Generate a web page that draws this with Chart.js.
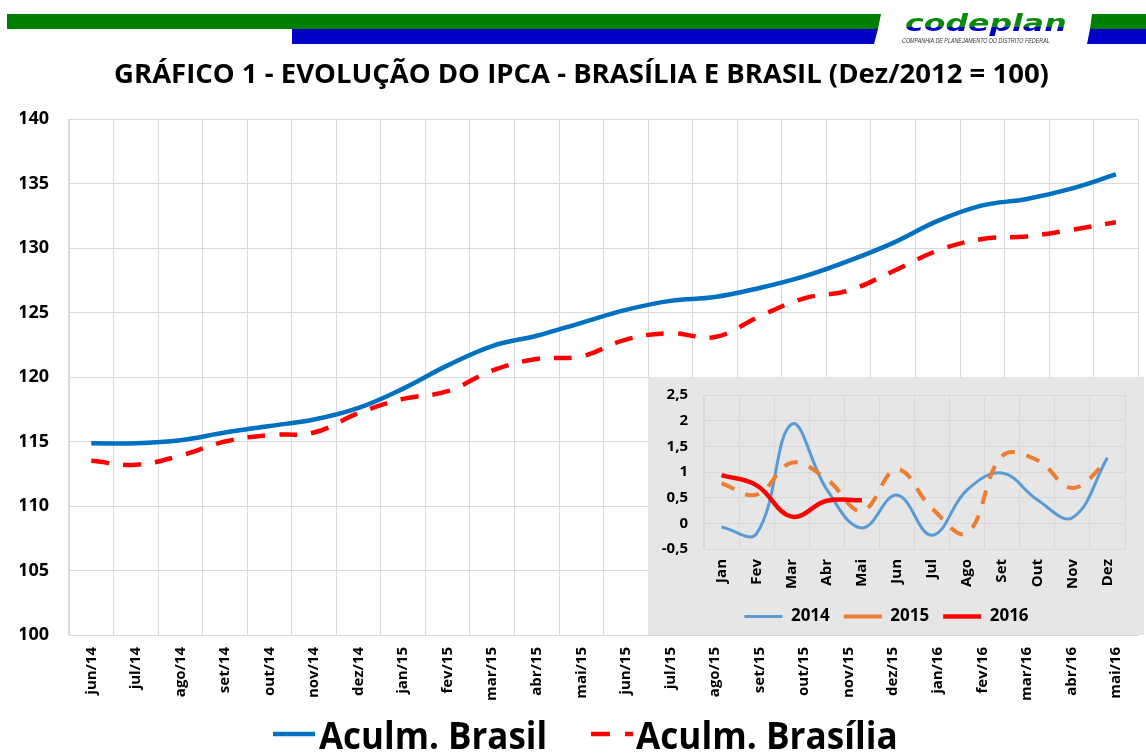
<!DOCTYPE html>
<html>
<head>
<meta charset="utf-8">
<script src="https://cdn.jsdelivr.net/npm/chart.js@4.4.1/dist/chart.umd.min.js"></script>
<style>
  body { margin: 0; background: #fff; }
  #page { position: relative; width: 1146px; height: 753px; overflow: hidden; font-family: "Open Sans", sans-serif; }
  #mainChart { position: absolute; left: 0; top: 0; }
  #insetBox { position: absolute; left: 648px; top: 377px; width: 496px; height: 258px; background: #e6e6e6; }
  #inset { position: absolute; left: 648px; top: 370px; }
  .bar { position: absolute; }
  #green1 { left: 7px; top: 14px; width: 874px; height: 15px; background: #008000; clip-path: polygon(0 0, 100% 0, 871px 100%, 0 100%); }
  #blue1 { left: 292px; top: 29px; width: 586px; height: 15px; background: #0000c8; clip-path: polygon(0 0, 100% 0, 582px 100%, 0 100%); }
  #green2 { left: 1088px; top: 14px; width: 58px; height: 15px; background: #008000; clip-path: polygon(4px 0, 100% 0, 100% 100%, 2px 100%); }
  #blue2 { left: 1086px; top: 29px; width: 60px; height: 15px; background: #0000c8; clip-path: polygon(4px 0, 100% 0, 100% 100%, 1px 100%); }
  .fit { position: absolute; white-space: nowrap; transform-origin: left top; }
  #logo { left: 905px; top: 10px; font: italic bold 23px "DejaVu Sans", sans-serif;
          background: linear-gradient(to bottom, #0a8a0a 0, #0a8a0a 66%, #0000c8 66%, #0000c8 100%);
          -webkit-background-clip: text; background-clip: text; color: transparent; }
  #logoSub { left: 902px; top: 37px; font: italic 7px "Liberation Sans", sans-serif; color: #333; }
  .legLine { position: absolute; top: 730px; }
  .legText { top: 712px; font: bold 38px "Open Sans", sans-serif; color: #000; line-height: 44px; }
</style>
</head>
<body>
<div id="page">
  <canvas id="mainChart" width="1146" height="753"></canvas>
  <div id="insetBox"></div>
  <canvas id="inset" width="496" height="265"></canvas>

  <div class="bar" id="green1"></div>
  <div class="bar" id="blue1"></div>
  <div class="bar" id="green2"></div>
  <div class="bar" id="blue2"></div>
  <div class="fit" id="logo" data-w="162">codeplan</div>
  <div class="fit" id="logoSub" data-w="148">COMPANHIA DE PLANEJAMENTO DO DISTRITO FEDERAL</div>

  <svg class="legLine" style="left:273px" width="42" height="8"><line x1="0" y1="4" x2="42" y2="4" stroke="#0070c0" stroke-width="4.5"/></svg>
  <div class="fit legText" style="left:319px" data-w="228">Aculm. Brasil</div>
  <svg class="legLine" style="left:591px" width="42" height="8"><line x1="0" y1="4" x2="42" y2="4" stroke="#ff0000" stroke-width="4.5" stroke-dasharray="19 15"/></svg>
  <div class="fit legText" style="left:636px" data-w="262">Aculm. Brasília</div>
</div>

<script>
// dados do grafico principal (indice acumulado, dez/2012 = 100)
const months = ["jun/14", "jul/14", "ago/14", "set/14", "out/14", "nov/14", "dez/14",
  "jan/15", "fev/15", "mar/15", "abr/15", "mai/15", "jun/15", "jul/15", "ago/15", "set/15",
  "out/15", "nov/15", "dez/15", "jan/16", "fev/16", "mar/16", "abr/16", "mai/16"];
const brasil = [114.86, 114.86, 115.1, 115.7, 116.2, 116.7, 117.6, 119.1, 120.9, 122.4, 123.2, 124.2,
  125.2, 125.9, 126.2, 126.9, 127.8, 129.0, 130.4, 132.1, 133.3, 133.8, 134.6, 135.7];
const brasilia = [113.5, 113.2, 113.9, 115.0, 115.5, 115.7, 117.2, 118.3, 118.9, 120.5, 121.4, 121.6,
  122.9, 123.4, 123.1, 124.7, 126.1, 126.7, 128.2, 129.8, 130.7, 130.9, 131.4, 132.0];

// dados do grafico menor (variacao mensal, %)
const shortMonths = ["Jan", "Fev", "Mar", "Abr", "Mai", "Jun", "Jul", "Ago", "Set", "Out", "Nov", "Dez"];
const var2014 = [-0.07, -0.2, 1.93, 0.66, -0.09, 0.55, -0.23, 0.65, 0.98, 0.46, 0.11, 1.28];
const var2015 = [0.78, 0.56, 1.18, 0.86, 0.24, 1.05, 0.29, -0.19, 1.31, 1.23, 0.69, 1.21];
const var2016 = [0.94, 0.74, 0.13, 0.44, 0.45];

const gridColor = "#d9d9d9";

// ajusta a largura dos textos do cabecalho e da legenda
const fitTexts = () => {
  document.querySelectorAll(".fit").forEach(el => {
    el.style.transform = "none";
    const w = el.offsetWidth;
    el.style.transform = `scaleX(${el.dataset.w / w})`;
  });
};
fitTexts();
document.fonts.ready.then(fitTexts);

new Chart(document.getElementById("mainChart"), {
  type: "line",
  data: {
    labels: months,
    datasets: [
      { label: "Aculm. Brasil", data: brasil, borderColor: "#0070c0", borderWidth: 4.5,
        pointRadius: 0, tension: 0.4, fill: false },
      { label: "Aculm. Brasília", data: brasilia, borderColor: "#ff0000", borderWidth: 4.5,
        borderDash: [18, 14], pointRadius: 0, tension: 0.4, fill: false }
    ]
  },
  options: {
    responsive: false,
    animation: false,
    layout: { padding: { left: 20, right: 3, top: 0, bottom: 0 } },
    plugins: {
      legend: { display: false },
      tooltip: { enabled: false },
      title: {
        display: true,
        text: "GRÁFICO 1 - EVOLUÇÃO DO IPCA - BRASÍLIA E BRASIL (Dez/2012 = 100)",
        color: "#000",
        font: { family: "Open Sans", size: 27.5, weight: "bold" },
        padding: { top: 59, bottom: 27 }
      }
    },
    scales: {
      x: {
        offset: true,
        grid: { offset: true, color: gridColor, drawTicks: false },
        border: { color: gridColor },
        ticks: { color: "#000", font: { family: "Open Sans", size: 15, weight: "bold" },
          minRotation: 90, maxRotation: 90, padding: 12, autoSkip: false },
        afterFit: s => { s.height = 118; }
      },
      y: {
        min: 100, max: 140,
        grid: { color: gridColor, drawTicks: false },
        border: { color: gridColor },
        ticks: { stepSize: 5, color: "#000", padding: 20,
          font: { family: "Open Sans", size: 18, weight: "bold" } },
        afterFit: s => { s.width = 49; }
      }
    }
  }
});

new Chart(document.getElementById("inset"), {
  type: "line",
  data: {
    labels: shortMonths,
    datasets: [
      { label: "2014", data: var2014, borderColor: "#5b9bd5", backgroundColor: "#5b9bd5",
        borderWidth: 3, pointRadius: 0, tension: 0.4, order: 2 },
      { label: "2015", data: var2015, borderColor: "#ed7d31", backgroundColor: "#ed7d31",
        borderWidth: 4, borderDash: [14, 12], pointRadius: 0, tension: 0.4, order: 1 },
      { label: "2016", data: var2016, borderColor: "#ff0000", backgroundColor: "#ff0000",
        borderWidth: 4.5, pointRadius: 0, tension: 0.4, order: 0 }
    ]
  },
  options: {
    responsive: false,
    animation: false,
    layout: { padding: { left: 0, right: 19, top: 2, bottom: 0 } },
    plugins: {
      tooltip: { enabled: false },
      legend: {
        position: "bottom",
        labels: {
          color: "#000",
          font: { family: "Open Sans", size: 17, weight: "bold" },
          usePointStyle: true,
          pointStyle: "line",
          pointStyleWidth: 38,
          padding: 14,
          sort: (a, b) => a.datasetIndex - b.datasetIndex
        }
      }
    },
    scales: {
      x: {
        offset: true,
        grid: { offset: true, color: gridColor, drawTicks: false },
        border: { color: gridColor },
        ticks: { color: "#000", font: { family: "Open Sans", size: 15, weight: "bold" },
          minRotation: 90, maxRotation: 90, padding: 10, autoSkip: false },
        afterFit: s => { s.height = 45; }
      },
      y: {
        min: -0.5, max: 2.5,
        grid: { color: gridColor, drawTicks: false },
        border: { color: gridColor },
        ticks: { stepSize: 0.5, color: "#000", padding: 16,
          font: { family: "Open Sans", size: 15, weight: "bold" },
          callback: v => String(v).replace(".", ",") },
        afterFit: s => { s.width = 56; }
      }
    }
  }
});
</script>
</body>
</html>
